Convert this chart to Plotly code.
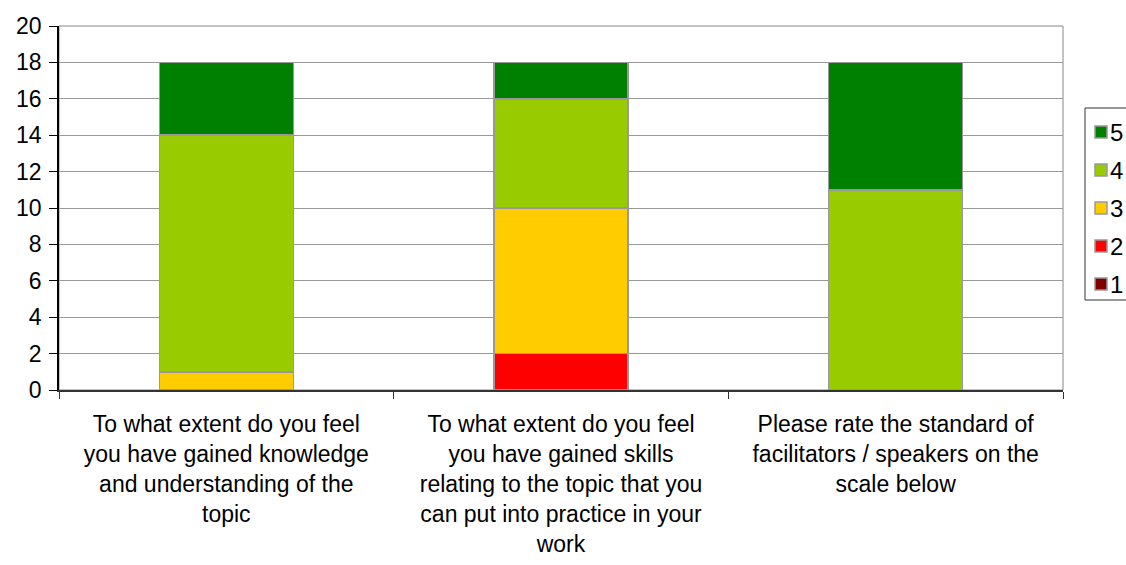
import plotly.graph_objects as go

categories = [
    "To what extent do you feel<br>you have gained knowledge<br>and understanding of the<br>topic",
    "To what extent do you feel<br>you have gained skills<br>relating to the topic that you<br>can put into practice in your<br>work",
    "Please rate the standard of<br>facilitators / speakers on the<br>scale below",
]
cat_keys = ["Q1", "Q2", "Q3"]
series_names = ["1", "2", "3", "4", "5"]
values_1 = [0, 0, 0]
values_2 = [0, 2, 0]
values_3 = [1, 8, 0]
values_4 = [13, 6, 11]
values_5 = [4, 2, 7]
series_values = [values_1, values_2, values_3, values_4, values_5]
colors = ["#800000", "#FF0000", "#FFCC00", "#99CC00", "#008000"]
y_ticks = list(range(0, 21, 2))

FONT = "Liberation Sans, Arial, sans-serif"
FS = 23
W, H = 1126, 565
ML, MR, MT, MB = 59, 63, 26, 175
PW, PH = W - ML - MR, H - MT - MB

fig = go.Figure()
for name, vals, col in zip(series_names, series_values, colors):
    fig.add_trace(go.Bar(
        x=cat_keys, y=vals, name=name, width=0.4,
        marker=dict(color=col, line=dict(color="#999999", width=1.5)),
        showlegend=False,
    ))

def px_x(p):
    return (p - ML) / PW

def px_y(p):
    return (H - MB - p) / PH

shapes = [
    dict(type="rect", xref="paper", yref="paper", x0=0, x1=1, y0=0, y1=1,
         line=dict(color="#888888", width=1), layer="below"),
    dict(type="rect", xref="paper", yref="paper", x0=px_x(1085), x1=px_x(1140),
         y0=px_y(300), y1=px_y(108), line=dict(color="#333333", width=1),
         fillcolor="white"),
]
annotations = []
legend_rows = [132, 170, 208, 246, 284]
for name, col, cy in zip(reversed(series_names), reversed(colors), legend_rows):
    shapes.append(dict(type="rect", xref="paper", yref="paper",
                       x0=px_x(1095), x1=px_x(1107), y0=px_y(cy + 6), y1=px_y(cy - 6),
                       fillcolor=col, line=dict(color="#999999", width=1.5)))
    annotations.append(dict(xref="paper", yref="paper", x=px_x(1108), y=px_y(cy),
                            xanchor="left", yanchor="middle", text=name, showarrow=False,
                            font=dict(family=FONT, size=24, color="black")))

fig.update_layout(
    barmode="stack",
    width=W, height=H,
    margin=dict(l=ML, r=MR, t=MT, b=MB, pad=0, autoexpand=False),
    plot_bgcolor="white", paper_bgcolor="white",
    font=dict(family=FONT, size=FS, color="black"),
    shapes=shapes, annotations=annotations,
    showlegend=False,
)
fig.update_xaxes(
    type="category", tickmode="array", tickvals=cat_keys, ticktext=categories,
    tickson="boundaries", ticks="outside", ticklen=7, tickcolor="#333333",
    showline=True, linecolor="#333333", linewidth=1.5, showgrid=False,
    ticklabelstandoff=13, tickfont=dict(size=FS), automargin=False,
)
fig.update_yaxes(
    range=[0, 20], tickmode="array", tickvals=y_ticks, ticks="outside", ticklen=8,
    tickcolor="black", showline=True, linecolor="black", linewidth=1.5,
    showgrid=True, gridcolor="#999999", gridwidth=1, zeroline=False,
    ticklabelstandoff=3, tickfont=dict(size=23), automargin=False,
)
fig.write_html("out.html")
